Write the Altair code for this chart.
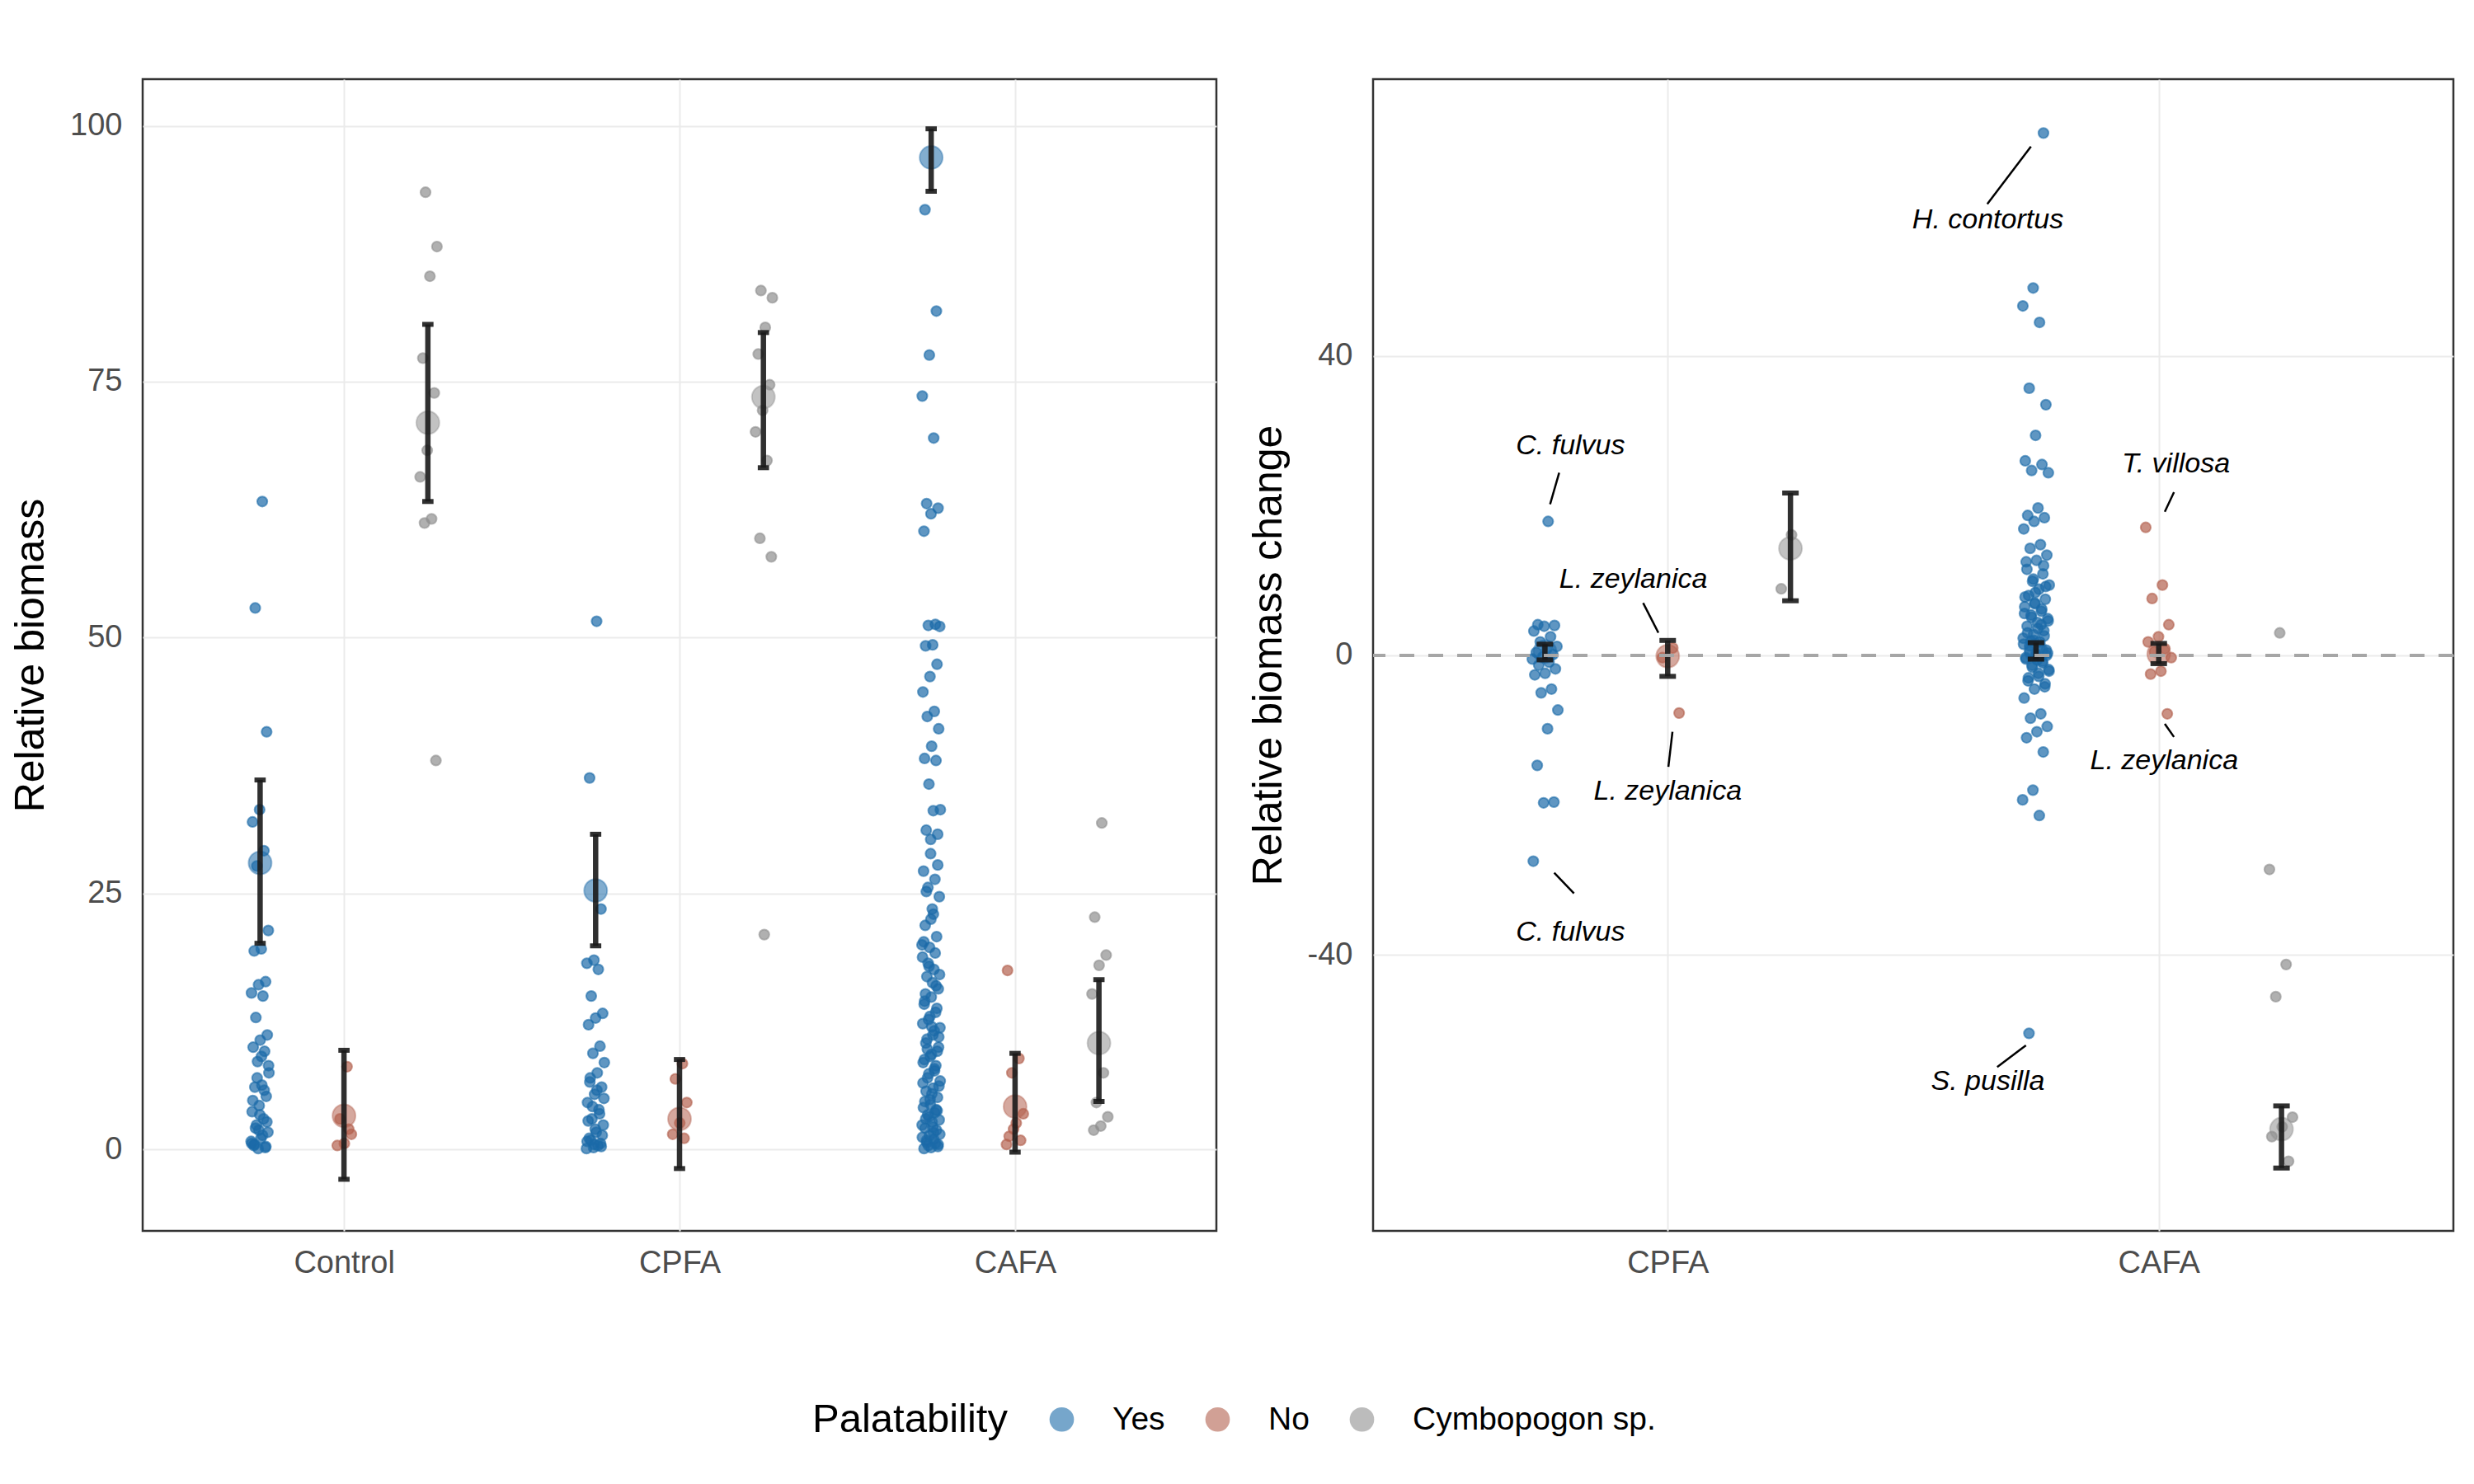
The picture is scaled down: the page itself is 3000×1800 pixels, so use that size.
import json
import altair as alt
import pandas as pd

FONT = "Liberation Sans"

# ---------------- categories ----------------
treat_left = ["Control", "CPFA", "CAFA"]
treat_right = ["CPFA", "CAFA"]
groups = ["Yes", "No", "Cymbopogon sp."]
colors = ["#1B6AA8", "#B3614F", "#8F8F8F"]

# ---------------- left panel: relative biomass (raw points) ----------------
ctrl_yes = [63.3, 52.9, 40.8, 33.2, 32.0, 29.2, 27.7, 21.4, 19.6, 19.4, 16.4, 16.1, 15.3, 15.0,
            12.9, 11.2, 10.7, 10.0, 9.6, 8.6, 7.5, 6.3, 6.1, 5.2, 4.3, 3.7, 3.0, 2.4, 1.7, 1.1,
            0.4, 0.2, 0.1, 0.8, 1.4, 2.1, 2.7, 3.4, 4.8, 5.8, 7.0, 8.2, 9.1, 0.5, 0.3, 1.9, 0.6]
ctrl_no = [8.1, 3.0, 1.5, 0.6, 0.4, 2.0]
ctrl_cym = [93.5, 88.2, 85.3, 77.3, 73.9, 68.3, 65.7, 61.6, 61.2, 38.0]

cpfa_yes = [51.6, 36.3, 23.5, 18.5, 18.2, 17.6, 15.0, 13.3, 12.85, 12.2, 10.1, 9.4, 8.5, 7.5,
            7.0, 6.1, 5.4, 4.6, 3.9, 3.0, 2.4, 1.7, 1.1, 0.6, 0.2, 0.1, 0.4, 0.9, 1.4, 2.0,
            2.8, 3.5, 4.2, 5.0, 5.8, 6.6, 0.3, 0.5, 0.8]
cpfa_no = [8.4, 6.9, 4.6, 2.6, 1.5, 1.1]
cpfa_cym = [83.9, 83.2, 80.3, 77.7, 74.7, 72.2, 70.1, 67.3, 59.7, 57.9, 21.0]

cafa_yes = [91.8, 81.9, 77.6, 73.6, 69.5, 63.1, 62.65, 62.1, 60.4, 51.3, 51.2, 51.1, 49.3, 49.2,
            47.4, 46.2, 44.7, 42.8, 42.3, 41.1, 39.4, 38.2, 38.0, 35.7, 33.2, 33.1, 31.2, 30.8,
            28.9, 27.2, 26.4, 25.6, 24.7, 23.5, 21.9, 20.8, 19.75, 18.8, 17.6, 16.9, 15.7, 14.9,
            14.2, 13.4, 12.7, 11.9, 11.2, 10.4, 9.6, 9.1, 8.5, 7.7, 7.0, 6.2, 5.45, 4.7, 3.9,
            3.2, 2.4, 1.65, 0.9, 0.3,
            22.5, 20.3, 19.2, 18.2, 17.1, 16.3, 15.2, 13.8, 13.0, 12.3, 11.6, 10.8, 10.0, 9.3,
            8.8, 8.2, 7.4, 6.7, 6.0, 5.7, 5.1, 4.4, 4.1, 3.6, 3.4, 2.9, 2.7, 2.1, 1.9, 1.4,
            1.2, 1.0, 0.7, 0.5, 0.2, 0.1, 0.6, 0.4, 1.5, 2.2, 3.0, 3.8, 4.9, 6.5, 7.9, 9.8,
            11.0, 12.0, 14.5, 16.0, 17.9, 20.0, 23.0, 25.2, 27.8, 30.3]
cafa_no = [17.5, 8.9, 7.5, 3.5, 2.6, 1.3, 0.9, 2.0, 0.5]
cafa_cym = [31.9, 22.7, 19.0, 18.0, 15.2, 7.5, 4.6, 3.2, 2.3, 1.9]

# left panel summaries (mean, lower, upper) per treatment x group
left_sum_treat = ["Control", "Control", "Control", "CPFA", "CPFA", "CPFA", "CAFA", "CAFA", "CAFA"]
left_sum_group = ["Yes", "No", "Cymbopogon sp."] * 3
left_mean = [28.0, 3.3, 71.0, 25.3, 3.0, 73.5, 96.9, 4.2, 10.4]
left_lo = [20.15, -2.9, 63.3, 19.9, -1.85, 66.6, 93.6, -0.25, 4.7]
left_hi = [36.1, 9.7, 80.6, 30.8, 8.8, 79.8, 99.7, 9.4, 16.6]

# ---------------- right panel: relative biomass change ----------------
r_cpfa_yes = [17.9, 4.1, 4.0, 3.9, 3.25, 2.5, 1.8, 1.2, 0.8, 0.4, 0.1, -0.2, -0.5, -0.9, -1.3,
              -1.8, -2.4, -2.6, -4.5, -5.0, -7.3, -9.8, -14.7, -19.6, -19.7, -27.5]
r_cpfa_no = [1.0, -0.3, -7.7]
r_cpfa_cym = [16.1, 8.9]
r_cafa_yes = [69.8, 49.1, 46.7, 44.5, 35.7, 33.5, 29.4, 26.0, 25.5, 24.7, 24.4, 19.7, 18.7, 18.4,
              17.9, 16.9, 14.8, 14.3, 13.4, 12.7, 12.5, 10.9, 9.9, 9.4, 8.85, 8.0, 7.5, 7.0, 6.5,
              5.9, 5.4, 4.9, 4.4, 3.9, 3.3, 2.8, 2.3, 1.8, 1.3, 0.7, 0.2, -0.3, -0.8, -1.3, -1.9,
              -2.4, -3.4, -4.2, -4.5, -5.7, -7.8, -8.4, -9.5, -10.2, -11.0, -12.9, -18.0, -19.3,
              -21.4, -50.5,
              9.2, 8.4, 7.8, 6.2, 5.1, 4.6, 3.6, 3.0, 2.6, 2.0, 1.5, 1.0, 0.5, 0.0, -0.1, -0.5,
              -1.0, -1.6, -2.1, -2.8, -3.0, -3.8, 6.9, 5.6, 4.1, 1.9, 0.3, -0.6, 11.5, 12.0, 10.2]
r_cafa_no = [17.1, 9.4, 7.6, 4.1, 2.5, 1.8, 0.9, 0.5, -0.3, -2.1, -2.5, -7.8]
r_cafa_cym = [3.0, -28.6, -41.3, -45.6, -61.7, -63.0, -64.3, -67.6]

right_sum_treat = ["CPFA", "CPFA", "CPFA", "CAFA", "CAFA", "CAFA"]
right_sum_group = ["Yes", "No", "Cymbopogon sp."] * 2
right_mean = [0.5, -0.1, 14.3, 0.6, 0.2, -63.3]
right_lo = [-0.6, -2.8, 7.3, -0.5, -1.1, -68.5]
right_hi = [1.5, 2.0, 21.7, 1.7, 1.6, -60.2]

# species labels (data units of the right panel)
ann_label = ["C. fulvus", "L. zeylanica", "L. zeylanica", "C. fulvus",
             "H. contortus", "T. villosa", "L. zeylanica", "S. pusilla"]
ann_tx = [0.802, 0.930, 1.000, 0.802, 1.652, 2.035, 2.011, 1.652]
ann_ty = [28.0, 10.1, -18.2, -37.0, 58.2, 25.6, -14.1, -57.0]
ann_x1 = [0.7605, 0.950, 1.0097, 0.7689, 1.7397, 2.031, 2.0123, 1.7296]
ann_y1 = [20.2, 7.0, -10.2, -29.05, 68.0, 21.8, -9.15, -52.1]
ann_x2 = [0.779, 0.981, 1.0014, 0.8091, 1.6508, 2.0123, 2.031, 1.671]
ann_y2 = [24.4, 3.03, -14.9, -31.8, 60.3, 19.2, -10.9, -55.0]

zero_line = [0]

# ---------------- tables ----------------
def long(treatment, group, vals):
    return [{"treatment": treatment, "group": group, "value": v} for v in vals]

left_pts = pd.DataFrame(
    long("Control", "Yes", ctrl_yes) + long("Control", "No", ctrl_no) + long("Control", "Cymbopogon sp.", ctrl_cym)
    + long("CPFA", "Yes", cpfa_yes) + long("CPFA", "No", cpfa_no) + long("CPFA", "Cymbopogon sp.", cpfa_cym)
    + long("CAFA", "Yes", cafa_yes) + long("CAFA", "No", cafa_no) + long("CAFA", "Cymbopogon sp.", cafa_cym)
)
right_pts = pd.DataFrame(
    long("CPFA", "Yes", r_cpfa_yes) + long("CPFA", "No", r_cpfa_no) + long("CPFA", "Cymbopogon sp.", r_cpfa_cym)
    + long("CAFA", "Yes", r_cafa_yes) + long("CAFA", "No", r_cafa_no) + long("CAFA", "Cymbopogon sp.", r_cafa_cym)
)
left_sum = pd.DataFrame({"treatment": left_sum_treat, "group": left_sum_group,
                         "mean": left_mean, "lo": left_lo, "hi": left_hi})
right_sum = pd.DataFrame({"treatment": right_sum_treat, "group": right_sum_group,
                          "mean": right_mean, "lo": right_lo, "hi": right_hi})
ann_df = pd.DataFrame({"label": ann_label, "tx": ann_tx, "ty": ann_ty,
                       "x1": ann_x1, "y1": ann_y1, "x2": ann_x2, "y2": ann_y2})

color_scale = alt.Scale(domain=groups, range=colors)
legend = alt.Legend(
    title="Palatability", orient="none", legendX=812, legendY=1606, direction="horizontal",
    titleOrient="left", titleFontSize=49, titleFont=FONT, titleFontWeight="normal",
    titleColor="black", labelFontSize=39, labelFont=FONT, labelColor="black",
    titleLimit=0, labelLimit=0,
    symbolType="circle", symbolSize=880, symbolOpacity=0.6, symbolStrokeWidth=0,
    columnPadding=44, labelOffset=42, titlePadding=46,
)
CAP = 0.0168


def panel(pts, summ, treats, ydom, yvals, ytitle):
    xexpr = (f"indexof({json.dumps(treats)}, datum.treatment) + 1 + "
             f"(indexof({json.dumps(groups)}, datum.group) - 1) * 0.25")
    names = json.dumps(treats)
    xaxis = alt.Axis(values=list(range(1, len(treats) + 1)), labelExpr=f"{names}[datum.value - 1]",
                     title=None, grid=True, ticks=False, domain=False, labelFontSize=38,
                     labelFont=FONT, labelColor="#4D4D4D", labelPadding=20,
                     gridColor="#EBEBEB", gridWidth=2)
    yaxis = alt.Axis(values=yvals, labelExpr="'' + datum.value", title=ytitle, grid=True,
                     ticks=False, domain=False,
                     labelFontSize=38, labelFont=FONT, labelColor="#4D4D4D", labelPadding=25,
                     gridColor="#EBEBEB", gridWidth=2, titleFontSize=50, titleFont=FONT,
                     titleFontWeight="normal", titleColor="black", titlePadding=22)
    xsc = alt.Scale(domain=[0.4, len(treats) + 0.6], nice=False, zero=False)
    ysc = alt.Scale(domain=ydom, nice=False, zero=False)
    color = alt.Color("group:N", scale=color_scale, legend=legend)
    stroke = alt.Stroke("group:N", scale=color_scale, legend=None)

    points = alt.Chart(pts).transform_window(
        rn="row_number()"
    ).transform_calculate(
        xb=xexpr
    ).transform_calculate(
        xj="datum.xb + ((datum.rn * 0.6180339887) % 1 - 0.5) * 0.055"
    ).mark_circle(size=150, fillOpacity=0.7, strokeOpacity=0.6, strokeWidth=2).encode(
        x=alt.X("xj:Q", scale=xsc, axis=xaxis),
        y=alt.Y("value:Q", scale=ysc, axis=yaxis),
        color=color, stroke=stroke,
    )
    sbase = alt.Chart(summ).transform_calculate(xc=xexpr).transform_calculate(
        xl=f"datum.xc - {CAP}", xr=f"datum.xc + {CAP}")
    means = sbase.mark_circle(size=780, fillOpacity=0.55, strokeOpacity=0.4, strokeWidth=2).encode(
        x=alt.X("xc:Q", scale=xsc, axis=xaxis),
        y=alt.Y("mean:Q", scale=ysc, axis=yaxis),
        color=color, stroke=stroke,
    )
    bar = sbase.mark_rule(color="#1A1A1A", opacity=0.9, strokeWidth=6.5).encode(
        x=alt.X("xc:Q", scale=xsc, axis=xaxis),
        y=alt.Y("lo:Q", scale=ysc, axis=yaxis), y2="hi:Q",
    )
    cap_lo = sbase.mark_rule(color="#1A1A1A", opacity=0.9, strokeWidth=6).encode(
        x=alt.X("xl:Q", scale=xsc, axis=xaxis), x2="xr:Q",
        y=alt.Y("lo:Q", scale=ysc, axis=yaxis),
    )
    cap_hi = sbase.mark_rule(color="#1A1A1A", opacity=0.9, strokeWidth=6).encode(
        x=alt.X("xl:Q", scale=xsc, axis=xaxis), x2="xr:Q",
        y=alt.Y("hi:Q", scale=ysc, axis=yaxis),
    )
    layers = [points, means, bar, cap_lo, cap_hi]
    return layers, xsc, ysc, xaxis, yaxis


l_layers, _, _, _, _ = panel(left_pts, left_sum, treat_left, [-7.94, 104.55],
                             [0, 25, 50, 75, 100], "Relative biomass")
left = alt.layer(*l_layers).properties(width=1302, height=1397)

r_layers, rxs, rys, rxa, rya = panel(right_pts, right_sum, treat_right, [-76.9, 77.0],
                                     [-40, 0, 40], "Relative biomass change")
zero = alt.Chart(pd.DataFrame({"z": zero_line})).mark_rule(
    color="#A6A6A6", strokeWidth=4, strokeDash=[18, 17]).encode(
    y=alt.Y("z:Q", scale=rys, axis=rya))
segs = alt.Chart(ann_df).mark_rule(color="black", strokeWidth=2.5).encode(
    x=alt.X("x1:Q", scale=rxs, axis=rxa), x2="x2:Q",
    y=alt.Y("y1:Q", scale=rys, axis=rya), y2="y2:Q")
texts = alt.Chart(ann_df).mark_text(font=FONT, fontStyle="italic", fontSize=34, color="black",
                                    align="center", baseline="middle").encode(
    x=alt.X("tx:Q", scale=rxs, axis=rxa),
    y=alt.Y("ty:Q", scale=rys, axis=rya),
    text="label:N")
right = alt.layer(*r_layers, zero, segs, texts).properties(width=1310, height=1397)

chart = alt.hconcat(left, right, spacing=190, bounds="flush").resolve_scale(
    color="shared", stroke="shared"
).properties(
    padding={"left": 3, "top": 86, "right": 10, "bottom": 10},
    background="white",
).configure_view(
    stroke="#333333", strokeWidth=2.5
)

chart.save("out.html", embed_options={"renderer": "svg", "actions": False})
